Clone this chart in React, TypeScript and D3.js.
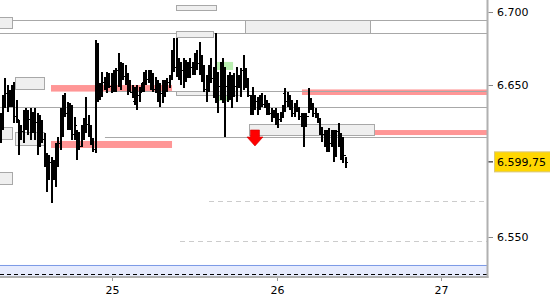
import React from "react";
import * as d3 from "d3";

// ---- OHLC data (price points), bars every ~20 min starting 24 Jul 07:40 ----
const highs = [
  6632, 6644, 6655, 6650.5, 6647, 6650.5, 6652.5, 6640.5, 6627.5, 6624,
  6634, 6635, 6634, 6635, 6632.5, 6635, 6632, 6630.5, 6627.5, 6619,
  6605.5, 6604.5, 6603, 6601, 6612, 6616, 6635, 6644, 6645, 6639,
  6638.5, 6637, 6629.5, 6620.5, 6619.5, 6624, 6628.5, 6642.5, 6630.5, 6624,
  6615.5, 6680, 6678, 6651.5, 6659, 6655.5, 6659, 6658, 6658, 6660,
  6661.5, 6671.5, 6665.5, 6665, 6663.5, 6658, 6653.5, 6650.5, 6649, 6650.5,
  6649, 6651.5, 6659, 6660, 6660, 6660, 6658, 6655.5, 6653.5, 6651.5,
  6653.5, 6653.5, 6655, 6657, 6673.5, 6681.5, 6681.5, 6668, 6665.5, 6668,
  6667, 6665.5, 6668, 6665.5, 6671.5, 6673.5, 6678.5, 6670, 6663.5, 6657,
  6663.5, 6668, 6662, 6684.5, 6659, 6665.5, 6668, 6662, 6657, 6659,
  6657, 6658, 6662, 6657, 6661.5, 6670, 6661.5, 6655, 6644, 6649,
  6644, 6642.5, 6644, 6645, 6644, 6640.5, 6638.5, 6635, 6634, 6635,
  6632, 6632.5, 6637, 6648.5, 6645.5, 6644, 6640.5, 6638.5, 6640.5, 6636,
  6632, 6632, 6632, 6648.5, 6642, 6638.5, 6635, 6632, 6628.5, 6622.5,
  6620.5, 6620.5, 6622, 6620.5, 6620.5, 6620.5, 6625.5, 6619, 6616, 6603,
];
const lows = [
  6612, 6620.5, 6635, 6632.5, 6636, 6636, 6625.5, 6625.5, 6604.5, 6614,
  6612, 6620.5, 6617.5, 6614, 6619, 6614, 6604.5, 6609.5, 6612, 6596.5,
  6580, 6588, 6573, 6588, 6583, 6596.5, 6607.5, 6616, 6629.5, 6620.5,
  6620.5, 6614, 6614, 6601, 6607.5, 6609.5, 6614, 6619, 6616, 6611,
  6606.5, 6605.5, 6639, 6640.5, 6642.5, 6647, 6645, 6648.5, 6645, 6645.5,
  6645.5, 6649, 6647, 6653.5, 6650.5, 6644, 6645.5, 6642, 6637, 6634,
  6639, 6645.5, 6645.5, 6650.5, 6651.5, 6647, 6645.5, 6645, 6639, 6636,
  6638.5, 6642.5, 6645.5, 6648.5, 6653.5, 6659, 6655.5, 6653.5, 6650.5, 6648.5,
  6652.5, 6655, 6655, 6657, 6657, 6660, 6657, 6652.5, 6645.5, 6639,
  6645.5, 6651.5, 6642, 6638.5, 6632, 6640.5, 6638.5, 6616, 6639, 6640.5,
  6635, 6642.5, 6639, 6648.5, 6642.5, 6647, 6648.5, 6642.5, 6630.5, 6630.5,
  6634, 6630.5, 6634, 6636, 6635, 6630.5, 6630.5, 6626, 6628.5, 6624,
  6622, 6626, 6628.5, 6632.5, 6636, 6634, 6629.5, 6629.5, 6632.5, 6627.5,
  6622.5, 6609.5, 6622.5, 6632, 6634, 6629.5, 6628.5, 6625.5, 6617.5, 6613,
  6609.5, 6606.5, 6606.5, 6609.5, 6600, 6603, 6609.5, 6601, 6599, 6596,
];
const closes = [
  6628, 6640, 6645, 6640, 6646, 6642, 6630, 6628, 6618, 6620,
  6626, 6622, 6628, 6624, 6630, 6626, 6612, 6620, 6615, 6604,
  6590, 6600, 6590, 6594, 6605, 6612, 6630, 6638, 6632, 6628,
  6624, 6618, 6624, 6612, 6610, 6620, 6626, 6625, 6622, 6613,
  6608, 6660, 6650, 6644, 6652, 6649, 6652, 6650, 6654, 6650,
  6660, 6656, 6660, 6656, 6652, 6648, 6646, 6640, 6642, 6644,
  6646, 6652, 6656, 6654, 6655, 6650, 6648, 6648, 6642, 6645,
  6650, 6648, 6652, 6655, 6670, 6662, 6660, 6656, 6660, 6655,
  6660, 6658, 6662, 6660, 6668, 6665, 6662, 6656, 6648, 6655,
  6660, 6655, 6660, 6645, 6650, 6660, 6645, 6650, 6645, 6650,
  6645, 6650, 6652, 6655, 6660, 6652, 6650, 6644, 6640, 6635,
  6640, 6636, 6640, 6638, 6638, 6634, 6632, 6630, 6632, 6626,
  6628, 6632, 6645, 6640, 6638, 6636, 6632, 6638, 6634, 6630,
  6626, 6628, 6630, 6640, 6636, 6632, 6630, 6628, 6620, 6618,
  6612, 6614, 6612, 6610, 6612, 6620, 6612, 6606, 6604, 6599.75,
];
const firstOpen = 6620;
const barStart = new Date(2012, 6, 24, 7, 40);
const barMinutes = 20.3;

const T = (day: number, h: number, m: number) => new Date(2012, 6, day, h, m);
const viewStart = T(24, 7, 35);
const viewEnd = T(27, 6, 44);

const yTickValues = [6550, 6650, 6700];
const lastPrice = 6599.75;

// solid gray level lines [price, from]
const levelLines: [number, Date][] = [
  [6693.4, T(24, 6, 0)],
  [6684.5, T(24, 6, 0)],
  [6635.9, T(24, 6, 0)],
  [6616.1, T(24, 22, 55)],
  [6646.4, T(24, 22, 55)],
];
// dashed gray lines [price, from]
const dashedLines: [number, Date][] = [
  [6574.3, T(25, 14, 7)],
  [6548, T(25, 9, 53)],
];
// pink zones [from, to, top, bottom]
const pinkZones: [Date, Date, number, number][] = [
  [T(24, 15, 2), T(25, 8, 43), 6650.3, 6646],
  [T(24, 15, 2), T(25, 8, 43), 6613.5, 6608.9],
  [T(26, 3, 42), T(27, 8, 0), 6647.4, 6643.75],
  [T(26, 3, 52), T(27, 8, 0), 6620.7, 6617.4],
];
// gray boxes [from, to, top, bottom]
const grayBoxes: [Date, Date, number, number][] = [
  [T(24, 6, 0), T(24, 9, 20), 6695.1, 6687.8],
  [T(24, 9, 46), T(24, 14, 1), 6655.6, 6647.7],
  [T(24, 6, 0), T(24, 9, 20), 6622.7, 6614.8],
  [T(24, 9, 46), T(24, 14, 1), 6619.4, 6610.9],
  [T(24, 6, 0), T(24, 9, 20), 6593.1, 6585.2],
  [T(25, 9, 18), T(25, 15, 8), 6703, 6699.75],
  [T(25, 9, 18), T(25, 14, 42), 6685.9, 6681.9],
  [T(25, 9, 18), T(25, 18, 39), 6646.4, 6643.75],
  [T(25, 19, 22), T(26, 13, 38), 6693.1, 6684.5],
  [T(25, 19, 58), T(26, 14, 13), 6624.7, 6617.4],
];
const greenBoxes: [Date, Date, number, number][] = [
  [T(25, 15, 17), T(25, 17, 38), 6665.5, 6660.2],
  [T(25, 15, 17), T(25, 17, 11), 6644.4, 6639.8],
];
const sellArrow: [Date, number] = [T(25, 20, 50), 6610.2];
const bottomBand: [number, number] = [6532, 6524];
const bottomDash = 6526.3;

const W = 550;
const H = 300;
const plotRight = 487;
const plotBottom = 277;

export default function App() {
  const x = d3.scaleTime().domain([viewStart, viewEnd]).range([0, plotRight]);
  const y = d3
    .scaleLinear()
    .domain([6650, 6550])
    .range([85.5, 237.5]);

  const locale = d3.formatLocale({
    decimal: ",",
    thousands: ".",
    grouping: [3],
    currency: ["", ""],
  });
  const fmtTick = locale.format(",.0f");
  const fmtLast = locale.format(",.2f");

  const bars = highs.map((h, i) => {
    const t = new Date(barStart.getTime() + i * barMinutes * 60000);
    return {
      t,
      h,
      l: lows[i],
      o: i === 0 ? firstOpen : closes[i - 1],
      c: closes[i],
    };
  });

  const xTicks = x.ticks(d3.timeDay.every(1)!).filter((d) => {
    const px = x(d);
    return px > 5 && px < plotRight - 5;
  });

  const rect = (b: [Date, Date, number, number]) => {
    const x0 = Math.max(-2, x(b[0]));
    const x1 = Math.min(plotRight, x(b[1]));
    return { x: x0, y: y(b[2]), w: x1 - x0, h: y(b[3]) - y(b[2]) };
  };

  const ax = x(sellArrow[0]);
  const ay = y(sellArrow[1]);

  return (
    <svg
      width={W}
      height={H}
      style={{ position: "absolute", left: 0, top: 0, background: "#fff" }}
      fontFamily="DejaVu Sans, Verdana, sans-serif"
    >
      <defs>
        <clipPath id="plot">
          <rect x={0} y={0} width={plotRight} height={plotBottom} />
        </clipPath>
      </defs>
      <rect x={0} y={0} width={W} height={H} fill="#fff" />
      <g clipPath="url(#plot)">
        {/* bottom band */}
        <rect
          x={0}
          y={y(bottomBand[0])}
          width={plotRight}
          height={plotBottom - y(bottomBand[0])}
          fill="#e6ebfd"
        />
        <line
          x1={0}
          x2={plotRight}
          y1={Math.round(y(bottomBand[0])) + 0.5}
          y2={Math.round(y(bottomBand[0])) + 0.5}
          stroke="#7d9be6"
          strokeWidth={1}
        />
        <line
          x1={0}
          x2={plotRight}
          y1={Math.round(y(bottomDash)) + 0.5}
          y2={Math.round(y(bottomDash)) + 0.5}
          stroke="#000"
          strokeWidth={1}
          strokeDasharray="4,3"
        />
        {/* pink zones */}
        {pinkZones.map((z, i) => {
          const r = rect(z);
          return <rect key={"p" + i} x={r.x} y={r.y} width={r.w} height={r.h} fill="#ff9696" />;
        })}
        {/* dashed lines */}
        {dashedLines.map((d, i) => (
          <line
            key={"d" + i}
            x1={x(d[1])}
            x2={plotRight}
            y1={Math.round(y(d[0])) + 0.5}
            y2={Math.round(y(d[0])) + 0.5}
            stroke="#cccccc"
            strokeDasharray="5,4"
          />
        ))}
        {/* level lines */}
        {levelLines.map((d, i) => (
          <line
            key={"l" + i}
            x1={Math.max(0, x(d[1]))}
            x2={plotRight}
            y1={Math.round(y(d[0])) + 0.5}
            y2={Math.round(y(d[0])) + 0.5}
            stroke="#a8a8a8"
            strokeWidth={1.2}
          />
        ))}
        {/* green boxes */}
        {greenBoxes.map((g, i) => {
          const r = rect(g);
          return <rect key={"g" + i} x={r.x} y={r.y} width={r.w} height={r.h} fill="#b9eeb0" />;
        })}
        {/* gray boxes */}
        {grayBoxes.map((g, i) => {
          const r = rect(g);
          return (
            <rect
              key={"b" + i}
              x={Math.round(r.x) + 0.5}
              y={Math.round(r.y) + 0.5}
              width={Math.round(r.w)}
              height={Math.round(r.h)}
              fill="#efefef"
              stroke="#a8a8a8"
              strokeWidth={1}
            />
          );
        })}
        {/* OHLC bars */}
        {bars.map((b, i) => {
          const bx = Math.round(x(b.t));
          return (
            <g key={"bar" + i} stroke="#000" strokeWidth={2} shapeRendering="crispEdges">
              <line x1={bx} x2={bx} y1={Math.round(y(b.h))} y2={Math.round(y(b.l))} />
              <line x1={bx - 2} x2={bx} y1={Math.round(y(b.o)) + 0.5} y2={Math.round(y(b.o)) + 0.5} strokeWidth={1} />
              <line x1={bx} x2={bx + 2} y1={Math.round(y(b.c)) + 0.5} y2={Math.round(y(b.c)) + 0.5} strokeWidth={1} />
            </g>
          );
        })}
        {/* sell arrow */}
        <path
          d={`M${ax - 4.5},${ay - 16} h9 v7 h3.5 L${ax},${ay} L${ax - 8},${ay - 9} h3.5 Z`}
          fill="#ff0000"
          stroke="#d00000"
          strokeWidth={0.6}
        />
      </g>

      {/* axes frame */}
      <line x1={plotRight + 0.5} x2={plotRight + 0.5} y1={0} y2={plotBottom + 1} stroke="#b0b0b0" strokeWidth={2} />
      <line x1={0} x2={plotRight + 1.5} y1={plotBottom} y2={plotBottom} stroke="#b0b0b0" strokeWidth={2} />

      {/* y ticks */}
      {yTickValues.map((v) => {
        const ty = Math.max(12.5, y(v));
        return (
          <g key={"yt" + v}>
            <line x1={plotRight + 1.5} x2={plotRight + 6} y1={ty} y2={ty} stroke="#888" />
            <text x={497} y={ty} dy="0.36em" fontSize={11} fill="#000">
              {fmtTick(v)}
            </text>
          </g>
        );
      })}

      {/* last price */}
      <line x1={plotRight + 1.5} x2={plotRight + 6} y1={y(lastPrice)} y2={y(lastPrice)} stroke="#000" />
      <rect
        x={494.5}
        y={y(lastPrice) - 10}
        width={57}
        height={20}
        fill="#ffd700"
        stroke="#d9c77a"
        strokeWidth={1}
      />
      <text x={497} y={y(lastPrice)} dy="0.36em" fontSize={11} fill="#000">
        {fmtLast(lastPrice)}
      </text>

      {/* x ticks */}
      {xTicks.map((d) => {
        const tx = Math.round(x(d)) + 0.5;
        return (
          <g key={"xt" + d.getTime()}>
            <line x1={tx} x2={tx} y1={plotBottom + 1} y2={plotBottom + 4} stroke="#999" />
            <text x={tx} y={294} textAnchor="middle" fontSize={11} fill="#000">
              {d3.timeFormat("%d")(d)}
            </text>
          </g>
        );
      })}
    </svg>
  );
}
